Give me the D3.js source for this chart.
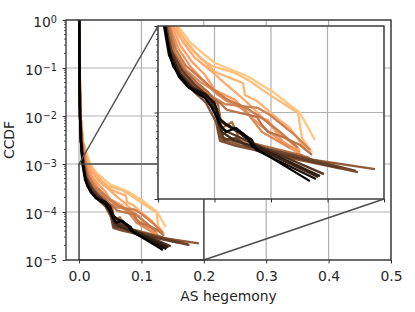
<!DOCTYPE html>
<html>
<head>
<meta charset="utf-8">
<script src="https://cdn.jsdelivr.net/npm/d3@7"></script>
<style>
  body { margin: 0; background: #fff; }
  text { font-family: "DejaVu Sans", sans-serif; fill: #262626; }
</style>
</head>
<body>
<svg id="chart" width="415" height="312"></svg>
<script>
// colour position of each curve in the copper map (1 = light, 0 = black)
var shade = [1.0, 0.95, 0.9, 0.85, 0.8, 0.75, 0.7, 0.65, 0.62, 0.58, 0.55, 0.5, 0.45, 0.4, 0.35, 0.3, 0.25, 0.2, 0.15, 0.08, 0.0];

var hegemony = [
  [0.0004, 0.001, 0.0025, 0.006, 0.0177, 0.0283, 0.0416, 0.0504, 0.0655, 0.0788, 0.1018, 0.1257, 0.1389],
  [0.0004, 0.001, 0.0025, 0.006, 0.0150, 0.0265, 0.0372, 0.0478, 0.0681, 0.0796, 0.0991, 0.1239, 0.1274, 0.1363],
  [0.0004, 0.001, 0.0025, 0.006, 0.0159, 0.0239, 0.0327, 0.0416, 0.0504, 0.0637, 0.0752, 0.077, 0.0876, 0.1018, 0.1168, 0.131],
  [0.0004, 0.001, 0.0025, 0.006, 0.0133, 0.0221, 0.0327, 0.046, 0.062, 0.0726, 0.0858, 0.1035, 0.1257],
  [0.0004, 0.001, 0.0025, 0.006, 0.0124, 0.0195, 0.0301, 0.0416, 0.0504, 0.0681, 0.0814, 0.0973, 0.1124, 0.1301],
  [0.0004, 0.001, 0.0025, 0.006, 0.0106, 0.0177, 0.0283, 0.0398, 0.0531, 0.0726, 0.0903, 0.108, 0.1257],
  [0.0003, 0.0008, 0.002, 0.004, 0.0106, 0.0159, 0.0248, 0.0372, 0.046, 0.0593, 0.077, 0.092, 0.1168],
  [0.0003, 0.0008, 0.002, 0.004, 0.0089, 0.0142, 0.023, 0.0345, 0.0487, 0.0593, 0.0885, 0.0991, 0.1212, 0.1345],
  [0.0003, 0.0008, 0.002, 0.004, 0.0097, 0.015, 0.0248, 0.0372, 0.0496, 0.062, 0.0779, 0.092, 0.108, 0.1239],
  [0.0003, 0.0008, 0.002, 0.004, 0.008, 0.0133, 0.0221, 0.0336, 0.046, 0.0549, 0.0611, 0.0876, 0.092, 0.0973, 0.1106, 0.1257, 0.1363],
  [0.0003, 0.0008, 0.002, 0.004, 0.0089, 0.0133, 0.0221, 0.0336, 0.0443, 0.0531, 0.0566, 0.0655, 0.0726, 0.1257, 0.1345],
  [0.0003, 0.0008, 0.002, 0.004, 0.008, 0.0124, 0.0212, 0.0327, 0.046, 0.054, 0.0566, 0.0726, 0.1168, 0.1301],
  [0.0003, 0.0008, 0.002, 0.004, 0.0071, 0.0115, 0.0204, 0.0319, 0.0443, 0.0531, 0.0558, 0.0726, 0.1257, 0.192],
  [0.0003, 0.0008, 0.002, 0.004, 0.0071, 0.0106, 0.0195, 0.0301, 0.0425, 0.0513, 0.0549, 0.069, 0.1257, 0.177],
  [0.0003, 0.0008, 0.002, 0.004, 0.0071, 0.0115, 0.0204, 0.031, 0.0434, 0.0522, 0.0549, 0.0708, 0.1168, 0.175],
  [0.0002, 0.0006, 0.0015, 0.003, 0.0071, 0.0115, 0.0212, 0.0319, 0.0443, 0.0531, 0.0584, 0.069, 0.0779, 0.161],
  [0.0002, 0.0006, 0.0015, 0.003, 0.0062, 0.0106, 0.0195, 0.0301, 0.0416, 0.0513, 0.0558, 0.0637, 0.0814, 0.1469],
  [0.0002, 0.0006, 0.0015, 0.003, 0.0062, 0.0106, 0.0195, 0.0292, 0.0407, 0.0487, 0.0531, 0.0566, 0.0673, 0.0832, 0.1416],
  [0.0002, 0.0006, 0.0015, 0.003, 0.0062, 0.0106, 0.0195, 0.0292, 0.0416, 0.0504, 0.0549, 0.0602, 0.0708, 0.0867, 0.1434],
  [0.0002, 0.0006, 0.0015, 0.003, 0.0053, 0.0097, 0.0186, 0.0274, 0.0407, 0.0496, 0.054, 0.0602, 0.0726, 0.0832, 0.0867, 0.1398],
  [0.0002, 0.0006, 0.0015, 0.003, 0.0062, 0.0089, 0.0133, 0.0195, 0.0265, 0.0327, 0.0416, 0.0478, 0.0522, 0.0558, 0.0602, 0.069, 0.0788, 0.0832, 0.1345]
];

var ccdf = [
  [1, 0.1, 0.01, 0.003, 1e-3, 6.53e-4, 4.62e-4, 3.73e-4, 3.10e-4, 2.64e-4, 1.73e-4, 9.87e-5, 4.81e-5],
  [1, 0.1, 0.01, 0.003, 1e-3, 6.03e-4, 4.27e-4, 3.45e-4, 2.86e-4, 2.38e-4, 1.59e-4, 9.87e-5, 5.07e-5, 3.49e-5],
  [1, 0.1, 0.01, 0.003, 1e-3, 6.89e-4, 5.0e-4, 3.84e-4, 2.94e-4, 2.51e-4, 2.19e-4, 1.59e-4, 1.36e-4, 9.36e-5, 6.62e-5, 3.68e-5],
  [1, 0.1, 0.01, 0.003, 1e-3, 6.53e-4, 4.27e-4, 3.10e-4, 2.02e-4, 1.55e-4, 1.07e-4, 6.28e-5, 3.68e-5],
  [1, 0.1, 0.01, 0.003, 1e-3, 6.03e-4, 3.84e-4, 2.71e-4, 1.82e-4, 1.40e-4, 9.36e-5, 8.19e-5, 4.21e-5, 3.06e-5],
  [1, 0.1, 0.01, 0.003, 1e-3, 5.57e-4, 3.45e-4, 2.38e-4, 1.59e-4, 1.16e-4, 7.17e-5, 4.81e-5, 3.49e-5],
  [1, 0.1, 0.01, 0.003, 1e-3, 5.28e-4, 3.10e-4, 2.26e-4, 1.92e-4, 1.40e-4, 1.07e-4, 5.96e-5, 3.89e-5],
  [1, 0.1, 0.01, 0.003, 1e-3, 5.0e-4, 2.94e-4, 2.08e-4, 1.51e-4, 1.25e-4, 1.13e-4, 9.36e-5, 5.49e-5, 3.68e-5],
  [1, 0.1, 0.01, 0.003, 1e-3, 5.57e-4, 3.45e-4, 2.51e-4, 1.82e-4, 1.40e-4, 1.13e-4, 8.63e-5, 5.96e-5, 3.89e-5],
  [1, 0.1, 0.01, 0.003, 1e-3, 5.0e-4, 2.94e-4, 2.02e-4, 1.55e-4, 1.29e-4, 1.07e-4, 8.87e-5, 7.17e-5, 5.96e-5, 5.21e-5, 4.21e-5, 3.23e-5],
  [1, 0.1, 0.01, 0.003, 1e-3, 5.28e-4, 3.27e-4, 2.26e-4, 1.73e-4, 1.25e-4, 6.62e-5, 7.76e-5, 4.81e-5, 3.23e-5, 2.98e-5],
  [1, 0.1, 0.01, 0.003, 1e-3, 5.0e-4, 2.94e-4, 2.02e-4, 1.47e-4, 1.01e-4, 5.07e-5, 4.44e-5, 3.23e-5, 2.82e-5],
  [1, 0.1, 0.01, 0.003, 1e-3, 4.74e-4, 2.79e-4, 1.97e-4, 1.43e-4, 9.12e-5, 4.81e-5, 4.21e-5, 2.98e-5, 2.22e-5],
  [1, 0.1, 0.01, 0.003, 1e-3, 4.50e-4, 2.57e-4, 1.82e-4, 1.29e-4, 7.76e-5, 4.69e-5, 4.10e-5, 2.82e-5, 2.05e-5],
  [1, 0.1, 0.01, 0.003, 1e-3, 4.88e-4, 2.86e-4, 1.97e-4, 1.43e-4, 8.87e-5, 5.21e-5, 4.56e-5, 3.31e-5, 2.11e-5],
  [1, 0.1, 0.01, 0.003, 1e-3, 5.28e-4, 3.10e-4, 2.13e-4, 1.55e-4, 8.87e-5, 4.81e-5, 5.07e-5, 4.10e-5, 2.28e-5],
  [1, 0.1, 0.01, 0.003, 1e-3, 4.74e-4, 2.71e-4, 1.97e-4, 1.55e-4, 1.07e-4, 6.62e-5, 5.79e-5, 4.56e-5, 1.94e-5],
  [1, 0.1, 0.01, 0.003, 1e-3, 5.0e-4, 2.79e-4, 2.02e-4, 1.59e-4, 1.19e-4, 7.76e-5, 5.96e-5, 4.81e-5, 4.10e-5, 1.80e-5],
  [1, 0.1, 0.01, 0.003, 1e-3, 4.88e-4, 2.64e-4, 1.97e-4, 1.64e-4, 1.25e-4, 8.19e-5, 7.17e-5, 5.96e-5, 4.10e-5, 1.84e-5],
  [1, 0.1, 0.01, 0.003, 1e-3, 4.62e-4, 2.57e-4, 1.92e-4, 1.64e-4, 1.32e-4, 8.63e-5, 7.36e-5, 5.96e-5, 4.81e-5, 3.68e-5, 1.70e-5],
  [1, 0.1, 0.01, 0.003, 1e-3, 5.87e-4, 3.45e-4, 2.64e-4, 2.02e-4, 1.73e-4, 1.47e-4, 1.13e-4, 8.63e-5, 6.98e-5, 5.96e-5, 6.62e-5, 5.21e-5, 4.10e-5, 1.61e-5]
];

var xTicks = [0, 0.1, 0.2, 0.3, 0.4, 0.5];
var yTicks = [1e-5, 1e-4, 1e-3, 1e-2, 1e-1, 1];
var insetXTicks = [0, 0.05, 0.1, 0.15, 0.2];
var insetYTicks = [1e-5, 1e-4, 1e-3];
var zoomX = [0, 0.2];
var zoomY = [1e-5, 1e-3];

var svg = d3.select('#chart');
var gridColor = '#b0b0b0';
var spineColor = '#333333';

var x = d3.scaleLinear().domain([-0.0209, 0.5]).range([66, 391]);
var y = d3.scaleLog().domain([1e-5, 1]).range([260, 20]);
var ix = d3.scaleLinear().domain(zoomX).range([158, 384]);
var iy = d3.scaleLog().domain(zoomY).range([199, 26]);

function copper(t) {
    return d3.rgb(255 * Math.min(1, 1.25 * t), 255 * 0.7812 * t, 255 * 0.4975 * t).toString();
}

function curves() {
    return shade.map(function(t, i) {
        return {t: t, pts: hegemony[i].map(function(v, j) { return [v, ccdf[i][j]]; })};
    });
}

function minorTicks(scale) {
    return scale.ticks().filter(function(v) {
        var e = Math.log10(v);
        return Math.abs(e - Math.round(e)) > 1e-6;
    });
}

function powLabel(sel, v) {
    var e = Math.round(Math.log10(v));
    sel.append('tspan').text('10');
    sel.append('tspan')
        .attr('dy', -4.8)
        .style('font-size', '9.7px')
        .text(e < 0 ? '\u2212' + (-e) : String(e));
}

svg.append('defs').append('clipPath').attr('id', 'mainClip')
    .append('rect').attr('x', 66).attr('y', 20).attr('width', 325).attr('height', 240);
svg.select('defs').append('clipPath').attr('id', 'insetClip')
    .append('rect').attr('x', 158).attr('y', 26).attr('width', 226).attr('height', 173);

// ---- main axes ----
var main = svg.append('g');

main.append('g').selectAll('line').data(xTicks).enter().append('line')
    .attr('x1', function(d) { return x(d); }).attr('x2', function(d) { return x(d); })
    .attr('y1', 20).attr('y2', 260)
    .attr('stroke', gridColor).attr('stroke-width', 1.2);
main.append('g').selectAll('line').data(yTicks).enter().append('line')
    .attr('y1', function(d) { return y(d); }).attr('y2', function(d) { return y(d); })
    .attr('x1', 66).attr('x2', 391)
    .attr('stroke', gridColor).attr('stroke-width', 1.2);

var line = d3.line().x(function(d) { return x(d[0]); }).y(function(d) { return y(d[1]); });
main.append('g').attr('clip-path', 'url(#mainClip)')
    .selectAll('path').data(curves()).enter().append('path')
    .attr('d', function(d) { return line(d.pts); })
    .attr('fill', 'none')
    .attr('stroke', function(d) { return copper(d.t); })
    .attr('stroke-width', 2.3)
    .attr('stroke-linejoin', 'round');

// zoom indicator box and connectors
main.append('rect')
    .attr('x', x(zoomX[0])).attr('y', y(zoomY[1]))
    .attr('width', x(zoomX[1]) - x(zoomX[0])).attr('height', y(zoomY[0]) - y(zoomY[1]))
    .attr('fill', 'none').attr('stroke', '#4d4d4d').attr('stroke-width', 1.5);
main.append('line')
    .attr('x1', ix.range()[0]).attr('y1', iy.range()[1])
    .attr('x2', x(zoomX[0])).attr('y2', y(zoomY[1]))
    .attr('stroke', '#4d4d4d').attr('stroke-width', 1.5);
main.append('line')
    .attr('x1', ix.range()[1]).attr('y1', iy.range()[0])
    .attr('x2', x(zoomX[1])).attr('y2', y(zoomY[0]))
    .attr('stroke', '#4d4d4d').attr('stroke-width', 1.5);

var xAxis = main.append('g').attr('transform', 'translate(0,260)')
    .call(d3.axisBottom(x).tickValues(xTicks).tickSize(3.5).tickFormat(d3.format('.1f')));
xAxis.selectAll('text').style('font-size', '13.9px').attr('dy', null).attr('y', 21);

var yAxis = main.append('g').attr('transform', 'translate(66,0)')
    .call(d3.axisLeft(y).tickValues(yTicks).tickSize(3.5).tickFormat(''));
yAxis.selectAll('.tick text').remove();
yAxis.selectAll('.tick').append('text')
    .attr('x', -9).attr('y', 6.8).attr('text-anchor', 'end')
    .style('font-size', '13.9px')
    .each(function(d) { powLabel(d3.select(this), d); });
main.append('g').selectAll('line').data(minorTicks(y)).enter().append('line')
    .attr('x1', 64).attr('x2', 66)
    .attr('y1', function(d) { return y(d); }).attr('y2', function(d) { return y(d); })
    .attr('stroke', spineColor).attr('stroke-width', 0.8);

[xAxis, yAxis].forEach(function(a) {
    a.select('.domain').remove();
    a.selectAll('.tick line').attr('stroke', spineColor).attr('stroke-width', 1);
});

main.append('rect').attr('x', 66).attr('y', 20).attr('width', 325).attr('height', 240)
    .attr('fill', 'none').attr('stroke', spineColor).attr('stroke-width', 1.3);

main.append('text').attr('x', 228.5).attr('y', 300.5).attr('text-anchor', 'middle')
    .style('font-size', '13.9px').text('AS hegemony');
main.append('text').attr('transform', 'translate(13.5,140) rotate(-90)').attr('text-anchor', 'middle')
    .style('font-size', '13.9px').text('CCDF');

// ---- inset axes ----
var inset = svg.append('g');
inset.append('rect').attr('x', 158).attr('y', 26).attr('width', 226).attr('height', 173).attr('fill', '#fff');

inset.append('g').selectAll('line').data(insetXTicks).enter().append('line')
    .attr('x1', function(d) { return ix(d); }).attr('x2', function(d) { return ix(d); })
    .attr('y1', 26).attr('y2', 199)
    .attr('stroke', gridColor).attr('stroke-width', 1.2);
inset.append('g').selectAll('line').data(insetYTicks).enter().append('line')
    .attr('y1', function(d) { return iy(d); }).attr('y2', function(d) { return iy(d); })
    .attr('x1', 158).attr('x2', 384)
    .attr('stroke', gridColor).attr('stroke-width', 1.2);

var iline = d3.line().x(function(d) { return ix(d[0]); }).y(function(d) { return iy(d[1]); });
inset.append('g').attr('clip-path', 'url(#insetClip)')
    .selectAll('path').data(curves()).enter().append('path')
    .attr('d', function(d) { return iline(d.pts); })
    .attr('fill', 'none')
    .attr('stroke', function(d) { return copper(d.t); })
    .attr('stroke-width', 2.3)
    .attr('stroke-linejoin', 'round');

var ixAxis = inset.append('g').attr('transform', 'translate(0,199)')
    .call(d3.axisBottom(ix).tickValues(insetXTicks).tickSize(3.5).tickFormat(''));
var iyAxis = inset.append('g').attr('transform', 'translate(158,0)')
    .call(d3.axisLeft(iy).tickValues(insetYTicks).tickSize(3.5).tickFormat(''));
[ixAxis, iyAxis].forEach(function(a) {
    a.select('.domain').remove();
    a.selectAll('.tick line').attr('stroke', spineColor).attr('stroke-width', 1);
});
inset.append('g').selectAll('line').data(minorTicks(iy)).enter().append('line')
    .attr('x1', 156).attr('x2', 158)
    .attr('y1', function(d) { return iy(d); }).attr('y2', function(d) { return iy(d); })
    .attr('stroke', spineColor).attr('stroke-width', 0.8);

inset.append('rect').attr('x', 158).attr('y', 26).attr('width', 226).attr('height', 173)
    .attr('fill', 'none').attr('stroke', spineColor).attr('stroke-width', 1.3);
</script>
</body>
</html>
